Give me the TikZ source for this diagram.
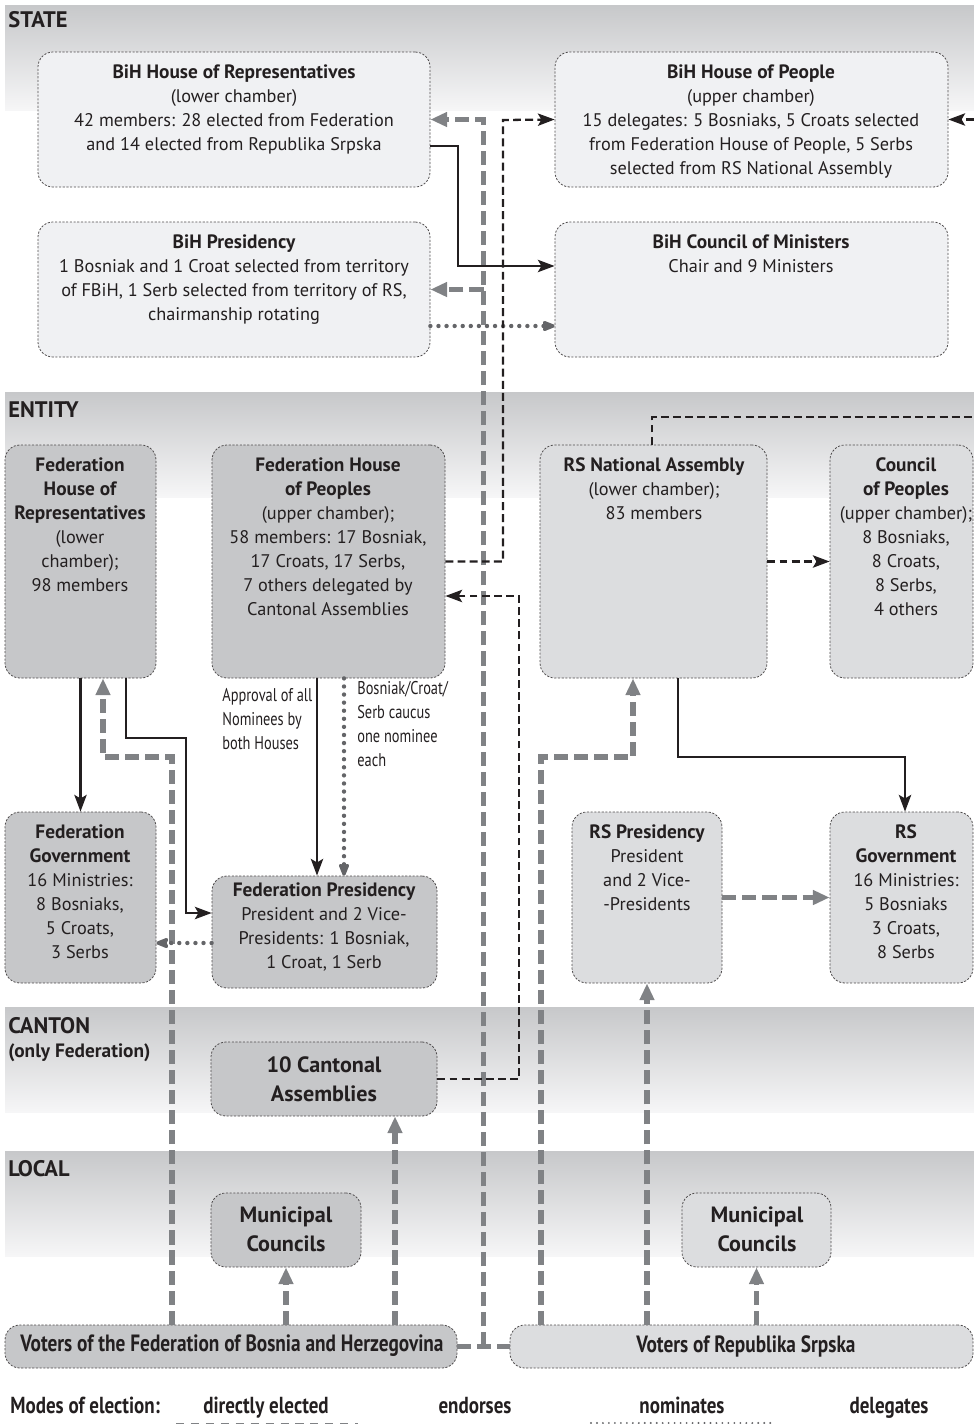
\documentclass[tikz,border=0pt]{standalone}
\usepackage{fontspec}
\setmainfont{PT Sans}
\newfontfamily\condfont[FakeStretch=0.82]{PT Sans}
\newfontfamily\narrowfont[FakeStretch=0.78]{PT Sans}
\usetikzlibrary{arrows.meta,fit,calc,positioning}

\definecolor{bandgrey}{RGB}{199,200,202}
\definecolor{bandlight}{RGB}{246,246,247}
\definecolor{statefill}{RGB}{240,241,243}
\definecolor{fedfill}{RGB}{198,199,201}
\definecolor{rsfill}{RGB}{220,221,223}
\definecolor{linegrey}{RGB}{128,130,133}
\definecolor{dotgrey}{RGB}{100,101,104}
\definecolor{ink}{RGB}{35,31,32}

\newcommand\boxtitle[1]{{\fontsize{11}{13.66}\selectfont\bfseries #1}}

\tikzset{
	govbox/.style={draw=ink!80, line width=0.45pt, dash pattern=on 1.2pt off 0.9pt, rounded corners=8.5pt, inner sep=0pt},
	statebox/.style={govbox, fill=statefill},
	fedbox/.style={govbox, fill=fedfill},
	rsbox/.style={govbox, fill=rsfill},
	boxtext/.style={font=\fontsize{10.4}{13.66}\selectfont, align=center, anchor=north, inner sep=0pt, text=ink},
	bigtext/.style={font=\fontsize{12.6}{16.5}\selectfont\bfseries, align=center, anchor=north, inner sep=0pt, text=ink},
	sidetext/.style={font=\narrowfont\fontsize{10.5}{13.66}\selectfont, align=left, anchor=north west, inner sep=0pt, text=ink},
	leveltext/.style={font=\fontsize{12.8}{14}\selectfont\bfseries, anchor=west, inner sep=0pt, text=ink},
	keytext/.style={font=\condfont\fontsize{13.2}{14}\selectfont\bfseries, inner sep=0pt, text=ink, anchor=base},
	votertext/.style={font=\condfont\fontsize{13.4}{14}\selectfont\bfseries, inner sep=0pt, text=ink},
	direct/.style={draw=linegrey, line width=2.9pt, dash pattern=on 8pt off 3.4pt},
	directarrow/.style={direct, -{Triangle[length=9.5pt,width=8pt]}, linegrey},
	endorse/.style={draw=ink, line width=1.3pt, -{Stealth[length=9.5pt,width=7pt,inset=2pt]}},
	nominate/.style={draw=dotgrey, line width=2.5pt, line cap=round, dash pattern=on 0pt off 4.6pt, -{Stealth[length=9pt,width=7pt,inset=1.5pt,round=false]}},
	delegate/.style={draw=ink, line width=1.3pt, dash pattern=on 4.5pt off 2.4pt, -{Stealth[length=9.5pt,width=7pt,inset=2pt]}}
}

\begin{document}
\begin{tikzpicture}[x=0.02cm, y=-0.02cm]
		\useasboundingbox (0,0) rectangle (974,1424);

		% level bands
		\foreach \bandy in {5,392,1007,1151}
			\shade[top color=bandgrey, bottom color=bandlight] (5,\bandy) rectangle (974,\bandy+105);

		\node[leveltext] (state) at (8,20) {STATE};
		\node[leveltext] (entity) at (8,410) {ENTITY};
		\node[leveltext] (canton) at (8,1026) {CANTON};
		\node[leveltext, font=\fontsize{11}{12}\selectfont\bfseries] (cantonnote) at (8,1053) {(only Federation)};
		\node[leveltext] (local) at (8,1169) {LOCAL};

		% state
		\node[statebox, fit={(38,52) (430,187)}] (hor) {};
		\node[boxtext] (hortext) at (234,64) {\boxtitle{BiH House of Representatives}\\(lower chamber)\\42 members: 28 elected from Federation\\and 14 elected from Republika Srpska};
		\node[statebox, fit={(555,52) (948,187)}] (hop) {};
		\node[boxtext] (hoptext) at (751,64) {\boxtitle{BiH House of People}\\(upper chamber)\\15 delegates: 5 Bosniaks, 5 Croats selected\\from Federation House of People, 5 Serbs\\selected from RS National Assembly};
		\node[statebox, fit={(38,222) (430,357)}] (pres) {};
		\node[boxtext] (prestext) at (234,234) {\boxtitle{BiH Presidency}\\1 Bosniak and 1 Croat selected from territory\\of FBiH, 1 Serb selected from territory of RS,\\chairmanship rotating};
		\node[statebox, fit={(555,222) (948,357)}] (com) {};
		\node[boxtext] (comtext) at (751,234) {\boxtitle{BiH Council of Ministers}\\Chair and 9 Ministers};

		% entity
		\node[fedbox, fit={(5,445) (156,678)}] (fhor) {};
		\node[boxtext] (fhortext) at (80,457) {\boxtitle{Federation}\\\boxtitle{House of}\\\boxtitle{Representatives}\\(lower\\chamber);\\98 members};
		\node[fedbox, fit={(212,445) (445,678)}] (fhop) {};
		\node[boxtext] (fhoptext) at (328,457) {\boxtitle{Federation House}\\\boxtitle{of Peoples}\\(upper chamber);\\58 members: 17 Bosniak,\\17 Croats, 17 Serbs,\\7 others delegated by\\Cantonal Assemblies};
		\node[rsbox, fit={(540,445) (767,678)}] (rsna) {};
		\node[boxtext] (rsnatext) at (654,457) {\boxtitle{RS National Assembly}\\(lower chamber);\\83 members};
		\node[rsbox, fit={(830,445) (973,678)}] (rscop) {};
		\node[boxtext] (rscoptext) at (906,457) {\boxtitle{Council}\\\boxtitle{of Peoples}\\(upper chamber);\\8 Bosniaks,\\8 Croats,\\8 Serbs,\\4 others};
		\node[fedbox, fit={(5,812) (156,983)}] (fgov) {};
		\node[boxtext] (fgovtext) at (80,824) {\boxtitle{Federation}\\\boxtitle{Government}\\16 Ministries:\\8 Bosniaks,\\5 Croats,\\3 Serbs};
		\node[fedbox, fit={(212,876) (437,988)}] (fpres) {};
		\node[boxtext] (fprestext) at (324,882) {\boxtitle{Federation Presidency}\\President and 2 Vice-\\Presidents: 1 Bosniak,\\1 Croat, 1 Serb};
		\node[rsbox, fit={(572,812) (722,983)}] (rspres) {};
		\node[boxtext] (rsprestext) at (647,824) {\boxtitle{RS Presidency}\\President\\and 2 Vice-\\-Presidents};
		\node[rsbox, fit={(830,812) (973,983)}] (rsgov) {};
		\node[boxtext] (rsgovtext) at (906,824) {\boxtitle{RS}\\\boxtitle{Government}\\16 Ministries:\\5 Bosniaks\\3 Croats,\\8 Serbs};

		\node[sidetext] (approval) at (222,688) {Approval of all\\Nominees by\\both Houses};
		\node[sidetext] (caucus) at (357,681) {Bosniak/Croat/\\Serb caucus\\one nominee\\each};

		% canton and local
		\node[fedbox, fit={(211,1042) (437,1116)}] (cant) {};
		\node[bigtext] (canttext) at (324,1056) {10 Cantonal\\Assemblies};
		\node[fedbox, fit={(211,1193) (361,1267)}] (fmun) {};
		\node[bigtext] (fmuntext) at (286,1206) {Municipal\\Councils};
		\node[rsbox, fit={(682,1193) (831,1267)}] (rsmun) {};
		\node[bigtext] (rsmuntext) at (757,1206) {Municipal\\Councils};

		% voters
		\node[fedbox, fit={(5,1325) (457,1368)}] (fvot) {};
		\node[votertext] (fvottext) at (232,1346) {Voters of the Federation of Bosnia and Herzegovina};
		\node[rsbox, fit={(510,1325) (973,1368)}] (rsvot) {};
		\node[votertext] (rsvottext) at (746,1346) {Voters of Republika Srpska};
		\coordinate (vjoin) at ($(fvot.east)!0.5!(rsvot.west)$);

		% directly elected
		\draw[direct] (fvot.east) -- (rsvot.west);
		\draw[directarrow] (vjoin) |- (hor.east);
		\draw[directarrow] (vjoin |- pres.east) -- (pres.east);
		\draw[directarrow] (fvot.north -| 172,0) |- (103,757) -- (fhor.south -| 103,0);
		\draw[directarrow] (fvot.north -| 395,0) -- (cant.south -| 395,0);
		\draw[directarrow] (fvot.north -| fmun.south) -- (fmun.south);
		\draw[directarrow] (rsvot.north -| 541,0) |- (633,757) -- (rsna.south -| 633,0);
		\draw[directarrow] (rsvot.north -| rspres.south) -- (rspres.south);
		\draw[directarrow] (rsvot.north -| rsmun.south) -- (rsmun.south);
		\draw[directarrow] (rspres.east) -- (rsgov.west);

		% endorses
		\draw[endorse] (hor.east |- 0,146) -| (458,266) -- (com.west |- 0,266);
		\draw[endorse] (fhor.south) -- (fgov.north);
		\draw[endorse] (fhor.south -| 126,0) |- (186,738) |- (fpres.west |- 0,913);
		\draw[endorse] (fhop.south -| 317,0) -- (fpres.north -| 317,0);
		\draw[endorse] (rsna.south -| 678,0) |- (905,757) -- (rsgov.north -| 905,0);

		% nominates
		\draw[nominate] (pres.east |- 0,326) -- (com.west |- 0,326);
		\draw[nominate] (fhop.south -| 344,0) -- (fpres.north -| 344,0);
		\draw[nominate] (fpres.west |- 0,943) -- (fgov.east |- 0,943);

		% delegates
		\draw[delegate] (fhop.east) -| (503,120) -- (hop.west);
		\draw[delegate] (cant.east) -| (519,596) -- (fhop.east |- 0,596);
		\draw[delegate] (rsna.north -| 652,0) |- (990,417) |- (hop.east);
		\draw[delegate] (rsna.east) -- (rscop.west);

		% legend
		\node[keytext, anchor=base west] (modes) at (10,1413) {Modes of election:};
		\node[keytext] (ldirect) at (266,1413) {directly elected};
		\node[keytext] (lendorse) at (475,1413) {endorses};
		\node[keytext] (lnominate) at (682,1413) {nominates};
		\node[keytext] (ldelegate) at (889,1413) {delegates};
		\draw[draw=linegrey, line width=2.5pt, dash pattern=on 4.6pt off 3.9pt] (176,1425) -- (358,1425);
		\draw[draw=dotgrey, line width=1.2pt, line cap=round, dash pattern=on 0pt off 3.4pt] (591,1423) -- (775,1423);
	\end{tikzpicture}
\end{document}
